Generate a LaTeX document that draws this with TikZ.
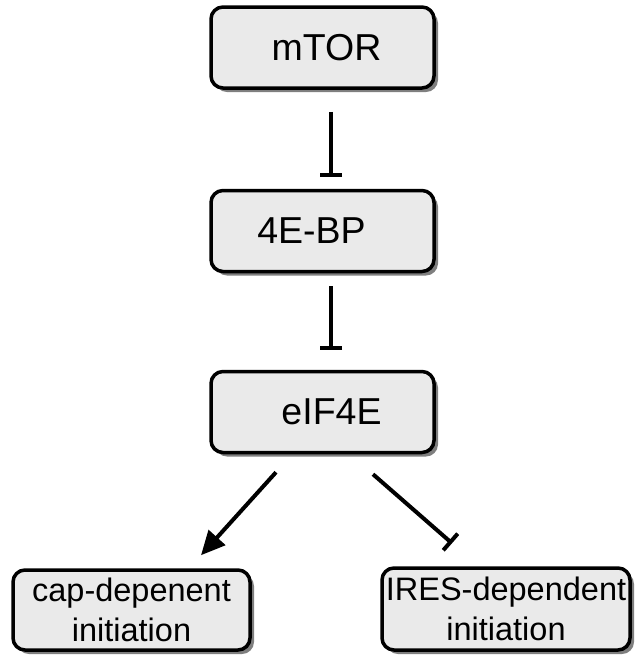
\documentclass[tikz,border=0pt]{standalone}
\usepackage{fontspec}
\setmainfont{Liberation Sans}
\usetikzlibrary{arrows.meta,shadows,calc}
\definecolor{boxgray}{HTML}{EAEAEA}
\definecolor{shadowgray}{HTML}{7F7F7F}
\tikzset{
  pbox/.style={draw=black, line width=3.5pt, rounded corners=12pt, fill=boxgray,
    inner sep=0pt, align=center,
    drop shadow={shadow xshift=4pt, shadow yshift=-4pt, fill=shadowgray, opacity=1}},
  mainbox/.style={pbox, minimum width=223pt, minimum height=81pt, font=\fontsize{37.5}{44}\selectfont},
  endbox/.style={pbox, font=\fontsize{32.5}{40}\selectfont},
  conn/.style={line width=4pt},
  inhib/.style={conn, -{Bar[width=22pt]}},
  activ/.style={conn, -{Triangle[length=24pt,width=22pt]}}
}
\begin{document}
\begin{tikzpicture}[x=1pt,y=-1pt]
\useasboundingbox (0,0) rectangle (636,657);
\node[mainbox] (mtor) at (322.5,47.5) {\hspace*{8pt}mTOR};
\node[mainbox] (bp) at (322.5,231) {\hspace*{-22pt}4E-BP};
\node[mainbox] (eif) at (322.5,412) {\hspace*{18pt}eIF4E};
\node[endbox, minimum width=237pt, minimum height=80pt] (cap) at (131.5,610) {cap-depenent\\initiation};
\node[endbox, minimum width=248pt, minimum height=82pt] (ires) at (506,609) {IRES-dependent\\initiation};
\draw[inhib] ($(mtor.south)+(8.5,22)$) -- ($(bp.north)+(8.5,-12)$);
\draw[inhib] ($(bp.south)+(8.5,13)$) -- ($(eif.north)+(8.5,-20)$);
\draw[activ] ($(eif.south)+(-46.5,18)$) -- ($(cap.north)+(69.5,-13)$);
\draw[inhib] ($(eif.south)+(50.5,20)$) -- ($(ires.north)+(-54,-23)$);
\end{tikzpicture}
\end{document}
